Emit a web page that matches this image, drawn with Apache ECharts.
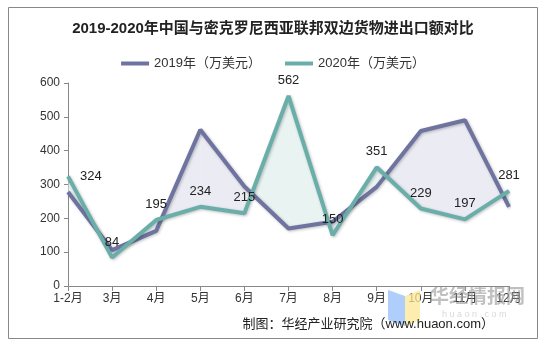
<!DOCTYPE html>
<html>
<head>
<meta charset="utf-8">
<script src="https://cdn.jsdelivr.net/npm/echarts@6/dist/echarts.min.js"></script>
<style>
  html, body { margin: 0; padding: 0; background: #fff; }
  #chart { width: 546px; height: 348px; }
</style>
</head>
<body>
<div id="chart"></div>
<script>
// Monthly bilateral trade between China and Micronesia (10k USD)
var months = ['1-2月', '3月', '4月', '5月', '6月', '7月', '8月', '9月', '10月', '11月', '12月'];
var trade2019 = [278, 106, 163, 462, 294, 170, 190, 293, 458, 490, 234];
var trade2020 = [324, 84, 195, 234, 215, 562, 150, 351, 229, 197, 281];
var yTicks = [0, 100, 200, 300, 400, 500, 600];

var FONT = '"Liberation Sans", "Noto Sans CJK SC", sans-serif';
var C19 = '#6e73a0';
var C20 = '#6aaeaa';
var FILL19 = 'rgba(222,224,236,0.65)';
var FILL20 = 'rgba(216,235,234,0.6)';

// Shaded band between the two lines, one segment per pair of adjacent months
function renderBand(params, api) {
  var i = api.value(0);
  var a0 = api.coord([i, trade2019[i]]), a1 = api.coord([i + 1, trade2019[i + 1]]);
  var b0 = api.coord([i, trade2020[i]]), b1 = api.coord([i + 1, trade2020[i + 1]]);
  var d0 = trade2019[i] - trade2020[i];
  var d1 = trade2019[i + 1] - trade2020[i + 1];
  var children = [];
  function poly(pts, up19) {
    children.push({
      type: 'polygon',
      shape: { points: pts },
      style: { fill: up19 ? FILL19 : FILL20 },
      silent: true
    });
  }
  if (d0 * d1 >= 0) {
    poly([a0, a1, b1, b0], (d0 + d1) >= 0);
  } else {
    var t = d0 / (d0 - d1);
    var cx = a0[0] + (a1[0] - a0[0]) * t;
    var cy = a0[1] + (a1[1] - a0[1]) * t;
    var c = [cx, cy];
    poly([a0, c, b0], d0 > 0);
    poly([c, a1, b1], d1 > 0);
  }
  return { type: 'group', children: children };
}

var segIdx = [];
for (var k = 0; k < months.length - 1; k++) segIdx.push([k]);

var chart = echarts.init(document.getElementById('chart'), null, { renderer: 'canvas' });
chart.setOption({
  backgroundColor: '#fff',
  animation: false,
  title: {
    text: '2019-2020年中国与密克罗尼西亚联邦双边货物进出口额对比',
    left: 'center',
    top: 16,
    textStyle: { fontFamily: FONT, fontSize: 15, fontWeight: 'bold', color: '#222' }
  },
  legend: {
    top: 52,
    left: 'center',
    icon: 'rect',
    itemWidth: 28,
    itemHeight: 4,
    itemGap: 24,
    textStyle: { fontFamily: FONT, fontSize: 13, color: '#333' },
    data: ['2019年（万美元）', '2020年（万美元）']
  },
  grid: { left: 68, right: 37, top: 83, bottom: 62, containLabel: false },
  xAxis: {
    type: 'category',
    data: months,
    boundaryGap: false,
    axisLine: { lineStyle: { color: '#888', width: 1 } },
    axisTick: { show: true, alignWithLabel: true, length: 5, lineStyle: { color: '#888' } },
    axisLabel: { fontFamily: FONT, fontSize: 12, color: '#333', margin: 7, interval: 0 },
    splitLine: { show: false }
  },
  yAxis: {
    type: 'value',
    min: yTicks[0],
    max: yTicks[yTicks.length - 1],
    interval: 100,
    axisLine: { show: true, lineStyle: { color: '#888', width: 1 } },
    axisTick: { show: true, length: 4, lineStyle: { color: '#888' } },
    axisLabel: { fontFamily: FONT, fontSize: 12, color: '#333', margin: 8 },
    splitLine: { show: false }
  },
  series: [
    {
      type: 'custom',
      name: 'band',
      renderItem: renderBand,
      data: segIdx,
      encode: { x: 0 },
      silent: true,
      z: 1
    },
    {
      name: '2019年（万美元）',
      type: 'line',
      data: trade2019,
      symbol: 'none',
      color: C19,
      lineStyle: { width: 4, color: C19, shadowBlur: 3, shadowColor: 'rgba(0,0,0,0.25)', shadowOffsetX: 1, shadowOffsetY: 1 },
      z: 3
    },
    {
      name: '2020年（万美元）',
      type: 'line',
      data: trade2020.map(function (v, i) {
        return i === 0
          ? { value: v, label: { position: 'right', distance: 12 } }
          : v;
      }),
      symbol: 'circle',
      symbolSize: 0,
      showSymbol: true,
      showAllSymbol: true,
      color: C20,
      lineStyle: { width: 4, color: C20, shadowBlur: 3, shadowColor: 'rgba(0,0,0,0.25)', shadowOffsetX: 1, shadowOffsetY: 1 },
      label: {
        show: true,
        position: 'top',
        distance: 9,
        fontFamily: FONT,
        fontSize: 13,
        color: '#222'
      },
      z: 4
    }
  ],
  graphic: [
    {
      type: 'rect',
      shape: { x: 8.5, y: 7.5, width: 529, height: 331 },
      style: { fill: 'none', stroke: '#888', lineWidth: 1 },
      z: -10,
      silent: true
    },
    // watermark logo
    {
      type: 'polygon',
      shape: { points: [[388, 290], [405, 296], [405, 326], [388, 320]] },
      style: { fill: 'rgba(150,190,250,0.75)' },
      z: 5, silent: true
    },
    {
      type: 'polygon',
      shape: { points: [[405, 296], [420, 290], [420, 320], [405, 326]] },
      style: { fill: 'rgba(252,232,150,0.75)' },
      z: 5, silent: true
    },
    {
      type: 'text',
      left: 430, top: 286,
      style: { text: '华经情报网', font: 'bold 19px "Noto Sans CJK SC", sans-serif', fill: 'rgba(150,150,150,0.6)' },
      z: 5, silent: true
    },
    {
      type: 'text',
      left: 442, top: 310,
      style: { text: 'h u a o n . c o m', font: '9px "Liberation Sans", sans-serif', fill: 'rgba(170,170,170,0.45)' },
      z: 5, silent: true
    },
    {
      type: 'text',
      right: 52, top: 318,
      style: { text: '制图：华经产业研究院（www.huaon.com）', font: '13px "Liberation Sans", "Noto Sans CJK SC", sans-serif', fill: '#222' },
      z: 6, silent: true
    }
  ]
});
</script>
</body>
</html>
